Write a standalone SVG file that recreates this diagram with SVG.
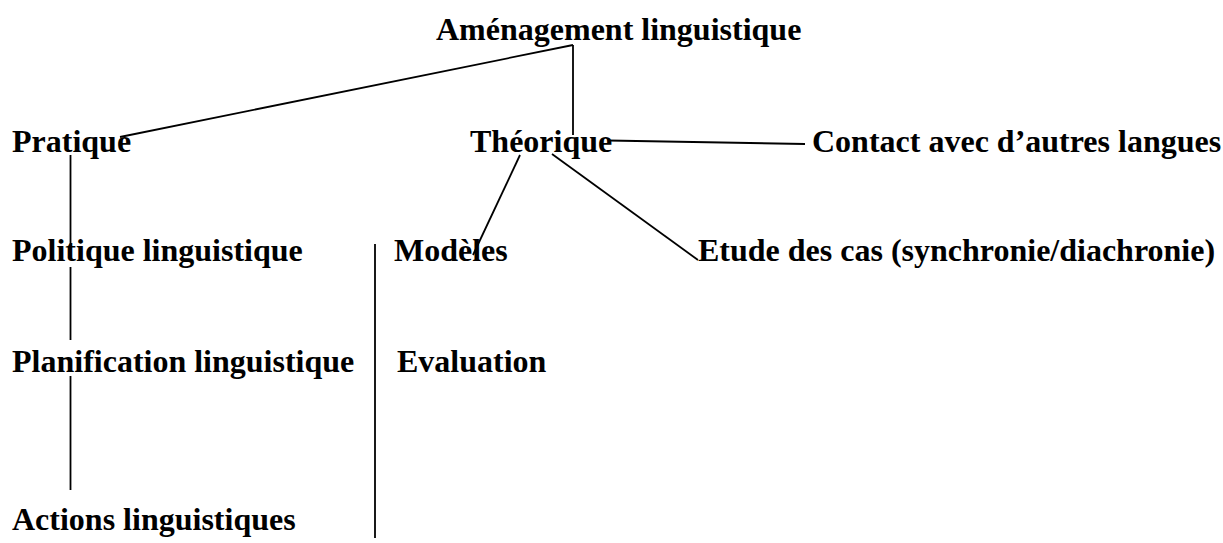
<svg xmlns="http://www.w3.org/2000/svg" width="1223" height="543" viewBox="0 0 1223 543">
<style>
text{font-family:"Liberation Serif","Times New Roman",serif;font-weight:bold;font-size:32px;fill:#000}
.c line{stroke:#000;stroke-width:1.8;fill:none}
</style>
<rect width="1223" height="543" fill="#fff"/>
<g class="c" id="connectors">
<line x1="573" y1="45" x2="120" y2="137"/>
<line x1="573" y1="45" x2="573" y2="135"/>
<line x1="608" y1="140.5" x2="805" y2="144"/>
<line x1="520" y1="155" x2="473" y2="255"/>
<line x1="552" y1="154" x2="698" y2="260"/>
<line x1="70.5" y1="155" x2="70.5" y2="247"/>
<line x1="70.5" y1="267" x2="70.5" y2="340"/>
<line x1="70.5" y1="376" x2="70.5" y2="490"/>
<line x1="375" y1="244" x2="375" y2="538"/>
</g>
<g id="n-amenagement"><text x="436" y="40">Aménagement linguistique</text></g>
<g id="n-pratique"><text x="12" y="152">Pratique</text></g>
<g id="n-theorique"><text x="470" y="152">Théorique</text></g>
<g id="n-contact"><text x="812" y="152">Contact avec d’autres langues</text></g>
<g id="n-politique"><text x="12" y="261">Politique linguistique</text></g>
<g id="n-modeles"><text x="394" y="261">Modèles</text></g>
<g id="n-etude"><text x="698" y="261">Etude des cas (synchronie/diachronie)</text></g>
<g id="n-planification"><text x="12" y="372">Planification linguistique</text></g>
<g id="n-evaluation"><text x="397" y="372">Evaluation</text></g>
<g id="n-actions"><text x="12" y="530">Actions linguistiques</text></g>
</svg>
